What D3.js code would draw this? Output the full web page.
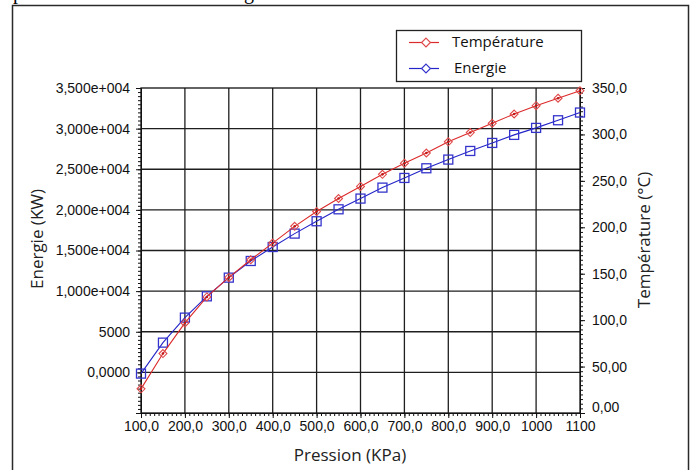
<!DOCTYPE html>
<html>
<head>
<meta charset="utf-8">
<script src="https://cdn.jsdelivr.net/npm/d3@7.9.0/dist/d3.min.js"></script>
<style>
  body { margin: 0; background: #fff; }
  svg { display: block; }
  .tick text { font-family: "Liberation Sans", Arial, sans-serif; font-size: 14px; fill: #111; }
  .title { font-family: "Open Sans", sans-serif; font-size: 17px; fill: #222; }
</style>
</head>
<body>
<div id="chart"></div>
<script>
// pression (KPa)
const pressure = [100, 150, 200, 250, 300, 350, 400, 450, 500, 550, 600,
  650, 700, 750, 800, 850, 900, 950, 1000, 1050, 1100];
// energie (KW), left axis
const energy = [-150, 3660, 6740, 9360, 11660, 13710, 15430, 17080, 18600, 20070, 21390,
  22740, 23930, 25120, 26190, 27250, 28240, 29230, 30090, 31030, 31980];
// temperature (°C), right axis
const temperature = [26, 64, 97, 125, 146, 165, 183, 201, 217, 231, 244,
  257, 269, 280, 292, 302, 312, 322, 331, 339, 347];

const xTicks = [100, 200, 300, 400, 500, 600, 700, 800, 900, 1000, 1100];
const xLabels = ['100,0', '200,0', '300,0', '400,0', '500,0', '600,0', '700,0', '800,0', '900,0', '1000', '1100'];
const leftTicks = [0, 5000, 10000, 15000, 20000, 25000, 30000, 35000];
const leftLabels = ['0,0000', '5000', '1,000e+004', '1,500e+004', '2,000e+004', '2,500e+004', '3,000e+004', '3,500e+004'];
const rightTicks = [0, 50, 100, 150, 200, 250, 300, 350];
const rightLabels = ['0,00', '50,00', '100,0', '150,0', '200,0', '250,0', '300,0', '350,0'];

const width = 694;
const height = 470;
const area = { left: 141, right: 580, top: 88, bottom: 413 };

const red = '#dc2a2a';
const blue = '#2424c8';

const svg = d3.select('#chart')
  .append('svg')
  .attr('width', width)
  .attr('height', height);

// cut-off line of the text above the figure
svg.append('text').attr('x', 13).attr('y', -1.5)
  .style('font-family', '"Liberation Serif", serif').style('font-size', '20px').text('p');
svg.append('text').attr('x', 244).attr('y', -1.5)
  .style('font-family', '"Liberation Serif", serif').style('font-size', '20px').text('g');

// outer frame
svg.append('rect')
  .attr('x', 12.5).attr('y', 5.5)
  .attr('width', 676).attr('height', 500)
  .attr('fill', 'none').attr('stroke', '#2a2a2a').attr('stroke-width', 1.5);

const xScale = d3.scaleLinear().domain([100, 1100]).range([area.left, area.right]);
const yLeft = d3.scaleLinear().domain([-5000, 35000]).range([area.bottom, area.top]);
const yRight = d3.scaleLinear().domain([0, 350]).range([area.bottom, area.top]);

// grid
const grid = svg.append('g').attr('class', 'grid')
  .attr('stroke', '#1e1e1e').attr('stroke-width', 1.3);
grid.selectAll('line.v')
  .data(xTicks.slice(1, -1))
  .join('line')
  .attr('class', 'v')
  .attr('x1', d => xScale(d)).attr('x2', d => xScale(d))
  .attr('y1', area.top).attr('y2', area.bottom);
grid.selectAll('line.h')
  .data(leftTicks.slice(0, -1))
  .join('line')
  .attr('class', 'h')
  .attr('x1', area.left).attr('x2', area.right)
  .attr('y1', d => yLeft(d)).attr('y2', d => yLeft(d));

svg.append('rect')
  .attr('x', area.left).attr('y', area.top)
  .attr('width', area.right - area.left).attr('height', area.bottom - area.top)
  .attr('fill', 'none').attr('stroke', '#111').attr('stroke-width', 1.3);

// minor ticks
svg.append('g')
  .attr('transform', `translate(0, ${area.bottom})`)
  .call(d3.axisBottom(xScale).tickValues(d3.range(100, 1101, 10)).tickSize(3).tickSizeOuter(0).tickFormat(''));
svg.append('g')
  .attr('transform', `translate(${area.left}, 0)`)
  .call(d3.axisLeft(yLeft).tickValues(d3.range(-5000, 35001, 500)).tickSize(3).tickSizeOuter(0).tickFormat(''));
svg.append('g')
  .attr('transform', `translate(${area.right}, 0)`)
  .call(d3.axisRight(yRight).tickValues(d3.range(0, 351, 5)).tickSize(3).tickSizeOuter(0).tickFormat(''));

// major ticks + labels
svg.append('g')
  .attr('transform', `translate(0, ${area.bottom})`)
  .call(d3.axisBottom(xScale).tickValues(xTicks).tickSize(5).tickPadding(3).tickSizeOuter(0)
    .tickFormat((d, i) => xLabels[i]));
svg.append('g')
  .attr('transform', `translate(${area.left}, 0)`)
  .call(d3.axisLeft(yLeft).tickValues(d3.range(-5000, 35001, 5000)).tickSize(5).tickPadding(6).tickSizeOuter(0)
    .tickFormat(d => { const i = leftTicks.indexOf(d); return i < 0 ? '' : leftLabels[i]; }));
const rightAxis = svg.append('g')
  .attr('transform', `translate(${area.right}, 0)`)
  .call(d3.axisRight(yRight).tickValues(rightTicks).tickSize(5).tickPadding(7).tickSizeOuter(0)
    .tickFormat((d, i) => rightLabels[i]));
rightAxis.selectAll('.tick text').filter(d => d === 0).attr('dy', '-0.1em');

svg.selectAll('.domain').attr('stroke', '#111');
svg.selectAll('.tick line').attr('stroke', '#111');

// series
const tempLine = d3.line().x((d, i) => xScale(pressure[i])).y(d => yRight(d));
const energyLine = d3.line().x((d, i) => xScale(pressure[i])).y(d => yLeft(d));
const diamond = d3.symbol().type(d3.symbolDiamond2).size(40);

svg.append('path')
  .datum(energy)
  .attr('d', energyLine)
  .attr('fill', 'none').attr('stroke', blue).attr('stroke-width', 1.1);
svg.append('g')
  .selectAll('rect')
  .data(energy)
  .join('rect')
  .attr('x', (d, i) => xScale(pressure[i]) - 4.5)
  .attr('y', d => yLeft(d) - 4.5)
  .attr('width', 9).attr('height', 9)
  .attr('fill', 'none').attr('stroke', '#3434cc').attr('stroke-width', 1.3);

svg.append('path')
  .datum(temperature)
  .attr('d', tempLine)
  .attr('fill', 'none').attr('stroke', red).attr('stroke-width', 1.1);
const tempPoints = svg.append('g')
  .selectAll('g')
  .data(temperature)
  .join('g')
  .attr('transform', (d, i) => `translate(${xScale(pressure[i])}, ${yRight(d)})`);
tempPoints.append('path')
  .attr('d', diamond)
  .attr('fill', 'none').attr('stroke', '#e04848').attr('stroke-width', 1.1);
tempPoints.append('circle')
  .attr('r', 1.3).attr('fill', '#c01818');

// axis titles
svg.append('text')
  .attr('class', 'title')
  .attr('x', 350).attr('y', 456)
  .attr('text-anchor', 'middle')
  .attr('dominant-baseline', 'middle')
  .text('Pression (KPa)');
svg.append('text')
  .attr('class', 'title')
  .attr('transform', 'translate(38, 239) rotate(-90)')
  .attr('text-anchor', 'middle')
  .attr('dominant-baseline', 'middle')
  .text('Energie (KW)');
svg.append('text')
  .attr('class', 'title')
  .attr('transform', 'translate(645, 240) rotate(-90)')
  .attr('text-anchor', 'middle')
  .attr('dominant-baseline', 'middle')
  .text('Température (°C)');

// legend
const legendItems = [
  { name: 'Température', color: red, marker: '#e04848', y: 42.5, tx: 452 },
  { name: 'Energie', color: blue, marker: '#3434cc', y: 68.5, tx: 454 },
];
const legend = svg.append('g').attr('class', 'legend');
legend.append('rect')
  .attr('x', 396.5).attr('y', 30.5)
  .attr('width', 185).attr('height', 51)
  .attr('fill', '#fff').attr('stroke', '#222').attr('stroke-width', 1.3);
const li = legend.selectAll('g.item')
  .data(legendItems)
  .join('g')
  .attr('class', 'item');
li.append('line')
  .attr('x1', 409).attr('x2', 439)
  .attr('y1', d => d.y).attr('y2', d => d.y)
  .attr('stroke', d => d.color).attr('stroke-width', 1.2);
li.append('path')
  .attr('transform', d => `translate(426, ${d.y})`)
  .attr('d', d3.symbol().type(d3.symbolDiamond2).size(50))
  .attr('fill', '#fff').attr('stroke', d => d.marker).attr('stroke-width', 1.2);
li.append('text')
  .attr('x', d => d.tx).attr('y', d => d.y)
  .attr('dominant-baseline', 'middle')
  .style('font-family', '"Open Sans", sans-serif')
  .style('font-size', '15px')
  .style('fill', '#111')
  .text(d => d.name);
</script>
</body>
</html>
